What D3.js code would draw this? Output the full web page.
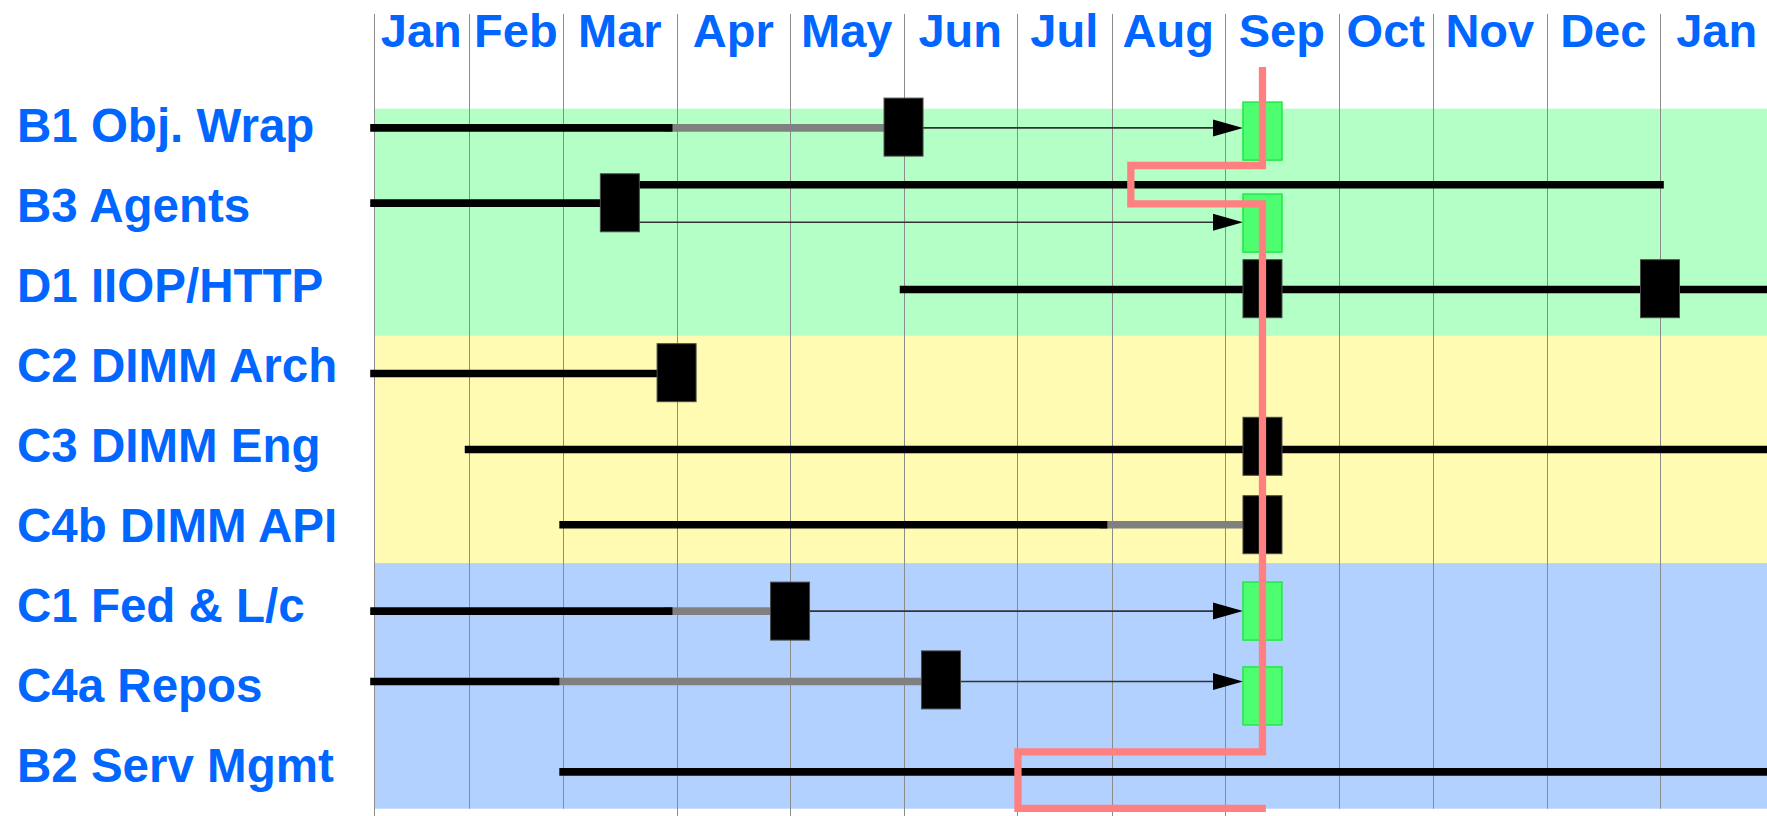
<!DOCTYPE html>
<html>
<head>
<meta charset="utf-8">
<script src="https://cdn.jsdelivr.net/npm/d3@7"></script>
<style>
  html, body { margin: 0; padding: 0; background: #ffffff; }
  svg { display: block; }
  text { font-family: "Liberation Sans", Arial, Helvetica, sans-serif; font-weight: bold; }
</style>
</head>
<body>
<svg id="chart" width="1767" height="816"></svg>
<script>
// ---------------- DATA ----------------
// Month columns (timeline header); the final "Jan" is the following year
const months = ["Jan","Feb","Mar","Apr","May","Jun","Jul","Aug","Sep","Oct","Nov","Dec","Jan"];
// Relative width of each month column as drawn in the original
const monthUnits = [5,5,6,6,6,6,5,6,6,5,6,6,6];
// Which month gridlines run past the bottom band
const gridRunsOut = [true,false,false,true,true,true,true,true,true,false,false,false,false];

// Work-package rows (labels) – row index 0..8
const rowLabels = ["B1 Obj. Wrap","B3 Agents","D1 IIOP/HTTP","C2 DIMM Arch","C3 DIMM Eng",
                   "C4b DIMM API","C1 Fed & L/c","C4a Repos","B2 Serv Mgmt"];

// Background groups, in row units
const bandFrom   = [-0.2, 2.64, 5.48];
const bandTo     = [2.64, 5.48, 8.55];
const bandColors = ["#b3ffc6", "#fffbb3", "#b3d1ff"];

// Time values are in months from January (0 = 1 Jan, 12 = next 1 Jan)
// Completed / planned work (black bars): [from, to, lane]
const doneFrom = [0,    0,    2.5,  5,    0,    1,    2,     0,    0,    2];
const doneTo   = [2.93, 2.5,  12,   13,   3,    13,   6.915, 2.93, 1.92, 13];
const doneLane = [0.04, 0.98, 0.75, 2.06, 3.11, 4.06, 5.0,   6.08, 6.96, 8.09];

// Slipped work (grey bars)
const slipFrom = [2.93, 6.915, 2.93, 1.92];
const slipTo   = [5.0,  8.33,  4.0,  5.33];
const slipLane = [0.04, 5.0,   6.08, 6.96];

// Milestones (black blocks)
const mileAt   = [5.0,  2.5,   8.33,  12.0,  3.0, 8.33, 8.33, 4.0,  5.33];
const mileLane = [0.03, 0.976, 2.05,  2.05,  3.1, 4.02, 5.0,  6.08, 6.94];

// Re-planned deliveries (arrows towards green targets)
const arrowFrom = [5.0,  2.5,  4.0,  5.33];
const arrowTo   = [8.33, 8.33, 8.33, 8.33];
const arrowLane = [0.04, 1.22, 6.08, 6.96];

// New target dates (green blocks)
const targetAt   = [8.33, 8.33, 8.33, 8.33];
const targetLane = [0.08, 1.23, 6.08, 7.14];

// Status ("today") line: [month, lane]
const statusMonth = [8.33, 8.33, 7.17, 7.17, 8.33, 8.33, 6.01, 6.01, 8.36];
const statusLane  = [-0.72, 0.51, 0.51, 0.99, 0.99, 7.84, 7.84, 8.545, 8.545];

// ---------------- LAYOUT ----------------
const W = 1767, H = 816;
const plotLeft = 374, plotRight12 = 1660;   // x of Jan and of next Jan
const rowTop = 124.7, rowBottom = 764.7;   // centres of first and last label rows

const svg = d3.select("#chart");

// cumulative unit positions of month boundaries
const cum = [0];
monthUnits.forEach((u, i) => cum.push(cum[i] + u));
const unitScale = d3.scaleLinear().domain([0, cum[12]]).range([plotLeft, plotRight12]);
const x = d3.scaleLinear().domain(d3.range(cum.length)).range(cum.map(unitScale));
const y = d3.scaleLinear().domain([0, rowLabels.length - 1]).range([rowTop, rowBottom]);

// Bands
svg.append("g").selectAll("rect").data(bandFrom).join("rect")
  .attr("x", x(0))
  .attr("y", (d) => y(d))
  .attr("width", W - x(0))
  .attr("height", (d, i) => y(bandTo[i]) - y(d))
  .attr("fill", (d, i) => bandColors[i]);

// Gridlines
const gridTop = 14;
svg.append("g").selectAll("line").data(d3.range(months.length)).join("line")
  .attr("x1", (i) => Math.round(x(i)) + 0.5)
  .attr("x2", (i) => Math.round(x(i)) + 0.5)
  .attr("y1", gridTop)
  .attr("y2", (i) => gridRunsOut[i] ? H : y(bandTo[bandTo.length - 1]))
  .attr("stroke", "#8c8c8c")
  .attr("stroke-width", 1);

// Month labels
svg.append("g").selectAll("text").data(months).join("text")
  .attr("x", (d, i) => (x(i) + x(i + 1)) / 2)
  .attr("y", 47)
  .attr("text-anchor", "middle")
  .attr("font-size", 47)
  .attr("fill", "#0066ff")
  .text((d) => d);

// Row labels
svg.append("g").selectAll("text").data(rowLabels).join("text")
  .attr("x", 17)
  .attr("y", (d, i) => y(i) + 17)
  .attr("font-size", 47.5)
  .attr("fill", "#0066ff")
  .text((d) => d);

const barW = 7.6;
// Slipped (grey) bars first, then black bars on top
svg.append("g").selectAll("line").data(slipFrom).join("line")
  .attr("x1", (d) => x(d))
  .attr("x2", (d, i) => x(slipTo[i]))
  .attr("y1", (d, i) => y(slipLane[i]))
  .attr("y2", (d, i) => y(slipLane[i]))
  .attr("stroke", "#808080")
  .attr("stroke-width", barW)
  .attr("stroke-linecap", "square");

svg.append("g").selectAll("line").data(doneFrom).join("line")
  .attr("x1", (d) => x(d))
  .attr("x2", (d, i) => x(doneTo[i]))
  .attr("y1", (d, i) => y(doneLane[i]))
  .attr("y2", (d, i) => y(doneLane[i]))
  .attr("stroke", "#000000")
  .attr("stroke-width", barW)
  .attr("stroke-linecap", "square");

// Arrows
const boxW = 39, boxH = 58, headL = 30, headH = 17;
const ag = svg.append("g");
ag.selectAll("line").data(arrowFrom).join("line")
  .attr("x1", (d) => x(d))
  .attr("x2", (d, i) => x(arrowTo[i]) - boxW / 2 - headL + 2)
  .attr("y1", (d, i) => y(arrowLane[i]))
  .attr("y2", (d, i) => y(arrowLane[i]))
  .attr("stroke", "#333333")
  .attr("stroke-width", 1.6);
ag.selectAll("path").data(arrowTo).join("path")
  .attr("d", (d, i) => {
    const tx = x(d) - boxW / 2, ty = y(arrowLane[i]);
    return `M${tx},${ty}L${tx - headL},${ty - headH / 2}L${tx - headL},${ty + headH / 2}Z`;
  })
  .attr("fill", "#000000");

// Milestones
svg.append("g").selectAll("rect").data(mileAt).join("rect")
  .attr("x", (d) => x(d) - boxW / 2)
  .attr("y", (d, i) => y(mileLane[i]) - boxH / 2)
  .attr("width", boxW)
  .attr("height", boxH)
  .attr("fill", "#000000")
  .attr("stroke", "#4a4a4a")
  .attr("stroke-width", 1);

// Targets
svg.append("g").selectAll("rect").data(targetAt).join("rect")
  .attr("x", (d) => x(d) - boxW / 2)
  .attr("y", (d, i) => y(targetLane[i]) - boxH / 2)
  .attr("width", boxW)
  .attr("height", boxH)
  .attr("fill", "#4dff70")
  .attr("stroke", "#22e845")
  .attr("stroke-width", 1.5);

// Status line
const statusLine = d3.line().x((d) => x(d[0])).y((d) => y(d[1]));
svg.append("path")
  .datum(statusMonth.map((m, i) => [m, statusLane[i]]))
  .attr("d", statusLine)
  .attr("fill", "none")
  .attr("stroke", "#ff8080")
  .attr("stroke-width", 7.3)
  .attr("stroke-linejoin", "miter");
</script>
</body>
</html>
